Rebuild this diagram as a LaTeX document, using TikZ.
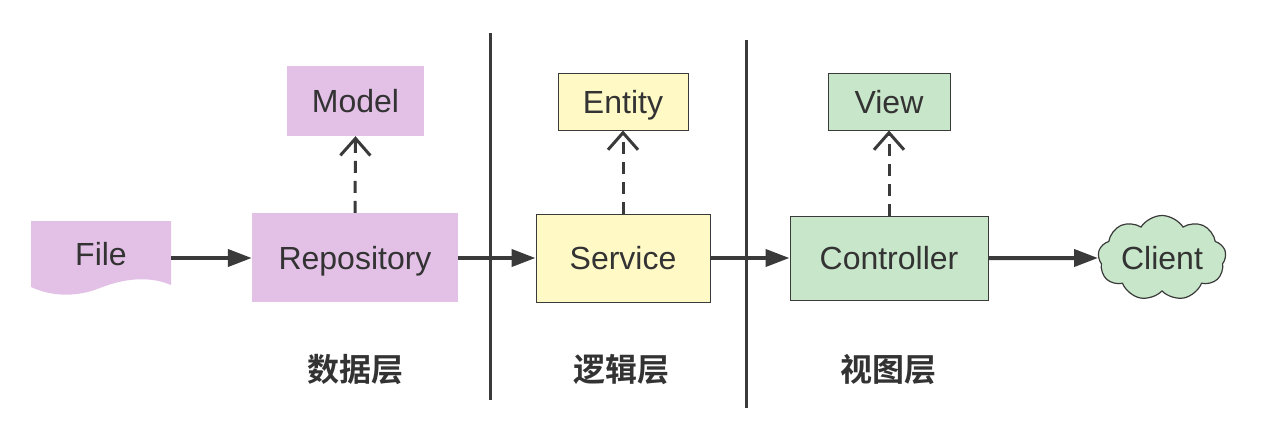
\documentclass[tikz,border=0pt]{standalone}
\usepackage{fontspec}
\setmainfont{Liberation Sans}
\newfontfamily\cjk{Noto Sans CJK SC}[BoldFont={* Bold}]
\usetikzlibrary{arrows.meta,shapes.symbols}
\definecolor{txt}{HTML}{333333}
\definecolor{purp}{HTML}{E3C1E7}
\definecolor{yel}{HTML}{FFF9C6}
\definecolor{grn}{HTML}{C8E6C9}
\definecolor{edge}{HTML}{3A3A3A}
\tikzset{
  lbl/.style={font=\fontsize{32}{34}\selectfont, text=txt, text height=23pt, text depth=0pt},
  box/.style={lbl, rectangle, inner sep=0pt},
  solidarrow/.style={draw=edge, line width=4pt, -{Triangle[length=24pt,width=17pt]}},
  dasharrow/.style={draw=edge, line width=3pt, dash pattern=on 12pt off 8pt, -{Straight Barb[length=17pt,width=30pt,line width=3pt]}},
  layer/.style={font=\cjk\bfseries\fontsize{32}{34}\selectfont, text=txt},
  sep/.style={draw=edge, line width=3pt}
}
\begin{document}
\begin{tikzpicture}[x=1pt,y=-1pt]
\useasboundingbox (0,0) rectangle (1274,421);
% File shape
\node[box, minimum width=140, minimum height=66] (file) at (101,254) {};
\fill[purp] (31,221) -- (171,221) -- (171,285)
  .. controls (150,276) and (125,278) .. (100,288)
  .. controls (75,298) and (50,296) .. (31,287) -- cycle;
\node[lbl] (filetext) at (101,254) {File};
% boxes
\node[box, fill=purp, minimum width=206, minimum height=89] (repo) at (355,257.5) {Repository};
\node[box, fill=purp, minimum width=137, minimum height=70] (model) at (355.5,101) {Model};
\node[box, fill=yel, draw=edge, line width=1pt, minimum width=130, minimum height=57] (entity) at (623,101.5) {Entity};
\node[box, fill=yel, draw=edge, line width=1pt, minimum width=174, minimum height=88] (service) at (623,258) {Service};
\node[box, fill=grn, draw=edge, line width=1pt, minimum width=122, minimum height=57] (view) at (889,101.5) {View};
\node[box, fill=grn, draw=edge, line width=1pt, minimum width=198, minimum height=84] (ctrl) at (889,258) {Controller};
\node[cloud, cloud puffs=9, cloud puff arc=115, aspect=1.5, inner sep=0pt, minimum width=128, minimum height=85, draw=edge, line width=1.2pt, fill=grn] (client) at (1162,258) {};
\node[lbl] (clienttext) at (client.center) {Client};
% separators
\draw[sep] (490,33) -- (490,400);
\draw[sep] (746,40) -- (746,408);
% layer labels
\node[layer] (l1) at (355,370) {数据层};
\node[layer] (l2) at (621,370) {逻辑层};
\node[layer] (l3) at (888,370) {视图层};
% arrows
\draw[solidarrow] (file.east |- 0,258) -- (repo.west |- 0,258);
\draw[solidarrow] (repo.east |- 0,258) -- (service.west);
\draw[solidarrow] (service.east) -- (ctrl.west);
\draw[solidarrow] (ctrl.east) -- (client.west);
\draw[dasharrow] (repo.north) -- (model.south);
\draw[dasharrow] (service.north) -- (entity.south);
\draw[dasharrow] (ctrl.north) -- (view.south);
\end{tikzpicture}
\end{document}
